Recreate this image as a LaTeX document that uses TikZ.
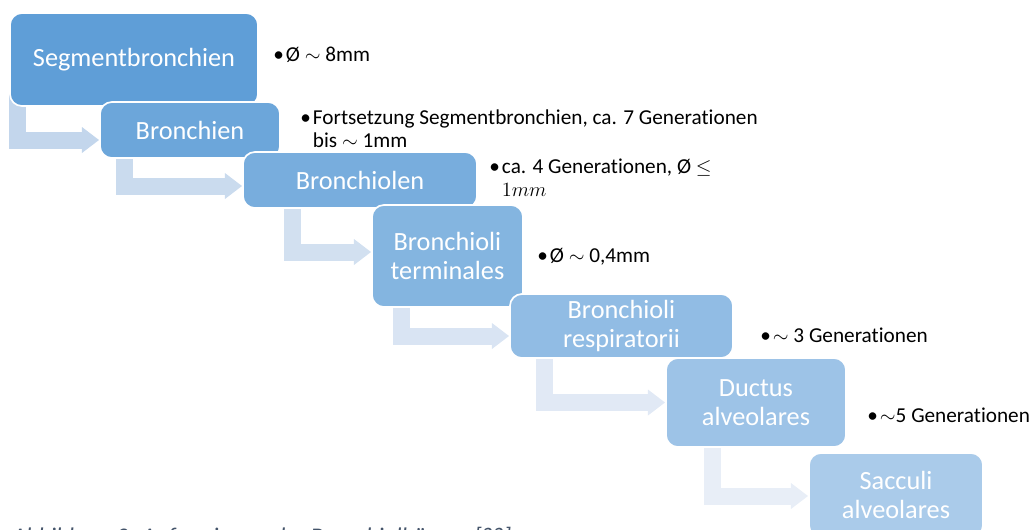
\documentclass[tikz,border=0pt]{standalone}
\usepackage{fontspec}
\setmainfont{Carlito}[Ligatures=NoCommon]
\usepackage{tikz}
\usetikzlibrary{arrows.meta,calc,backgrounds}
\definecolor{stepDark}{HTML}{5F9ED7}
\definecolor{stepLight}{HTML}{AACBEA}
\definecolor{flowDark}{HTML}{C3D6EC}
\definecolor{flowLight}{HTML}{E8EEF7}
\definecolor{captionGray}{HTML}{44546A}
\newcommand{\bul}{\makebox[9pt][l]{•}}

\begin{document}
\begin{tikzpicture}[
            x=0.025cm, y=-0.025cm,
            stepbox/.style={
                    rectangle,
                    rounded corners=0.3cm,
                    draw=white,
                    line width=1.2pt,
                    text=white,
                    inner sep=0pt,
                    align=center,
                    font=\fontsize{18.7}{20.8}\selectfont
                },
            note/.style={
                    anchor=base west,
                    inner sep=0pt,
                    align=left,
                    font=\fontsize{15.1}{16.5}\selectfont
                },
            flow/.style={
                    line width=0.425cm,
                    line join=miter,
                    -{Triangle[length=0.43cm,width=0.62cm]}
                }
        ]
        \useasboundingbox (0,0) rectangle (1032,529);
        \clip (0,0) rectangle (1032,529);

        % Stufen
        \node[stepbox, minimum width=6.2cm, minimum height=2.325cm, fill=stepDark] (seg) at (134,59.5) {Segmentbronchien};
        \node[stepbox, minimum width=4.5cm, minimum height=1.4cm, fill=stepDark!83!stepLight] (bron) at (190,130) {Bronchien};
        \node[stepbox, minimum width=5.85cm, minimum height=1.4cm, fill=stepDark!67!stepLight] (bchl) at (360,180) {Bronchiolen};
        \node[stepbox, minimum width=3.775cm, minimum height=2.55cm, fill=stepDark!50!stepLight] (term) at (447.5,256) {Bronchioli\\terminales};
        \node[stepbox, minimum width=5.575cm, minimum height=1.6cm, fill=stepDark!33!stepLight] (resp) at (621.5,326) {Bronchioli\\respiratorii};
        \node[stepbox, minimum width=4.5cm, minimum height=2.225cm, fill=stepDark!17!stepLight] (duct) at (756,402.5) {Ductus\\alveolares};
        \node[stepbox, minimum width=4.35cm, minimum height=2.1cm, fill=stepLight] (sacc) at (896,495) {Sacculi\\alveolares};

        % Pfeile
        \begin{scope}[on background layer]
            \draw[flow, draw=flowDark] ($(seg.south west)+(8,-14)$) |- ($(bron.west)+(0,10)$);
            \draw[flow, draw=flowDark!80!flowLight] ($(bron.south west)+(25,-14)$) |- ($(bchl.west)+(0,6)$);
            \draw[flow, draw=flowDark!60!flowLight] ($(bchl.south west)+(50,-14)$) |- ($(term.west)+(0,-4)$);
            \draw[flow, draw=flowDark!40!flowLight] ($(term.south west)+(30,-14)$) |- ($(resp.west)+(0,10)$);
            \draw[flow, draw=flowDark!20!flowLight] ($(resp.south west)+(35,-14)$) |- (duct.west);
            \draw[flow, draw=flowLight] ($(duct.south west)+(47,-14)$) |- ($(sacc.west)+(0,1)$);
        \end{scope}

        % Angaben
        \node[note] (n1) at (273,61) {\bul Ø $\sim$ 8mm};
        \node[note] (n2) at (300,124) {\bul\begin{tabular}[t]{@{}l@{}}Fortsetzung Segmentbronchien, ca. 7 Generationen\\bis $\sim$ 1mm\end{tabular}};
        \node[note] (n3) at (489,173) {\bul\begin{tabular}[t]{@{}l@{}}ca. 4 Generationen, Ø $\leq$\\$1mm$\end{tabular}};
        \node[note] (n4) at (537,262) {\bul Ø $\sim$ 0,4mm};
        \node[note] (n5) at (760,342) {\bul $\sim$ 3 Generationen};
        \node[note] (n6) at (867,422) {\bul$\sim$5 Generationen};

        % Bildunterschrift
        \node[anchor=base west, inner sep=0pt, text=captionGray, font=\itshape\fontsize{17}{20}\selectfont] (cap) at (12,544) {Abbildung 3: Aufzweigung der Bronchialbäume [??]};

    \end{tikzpicture}
\end{document}
